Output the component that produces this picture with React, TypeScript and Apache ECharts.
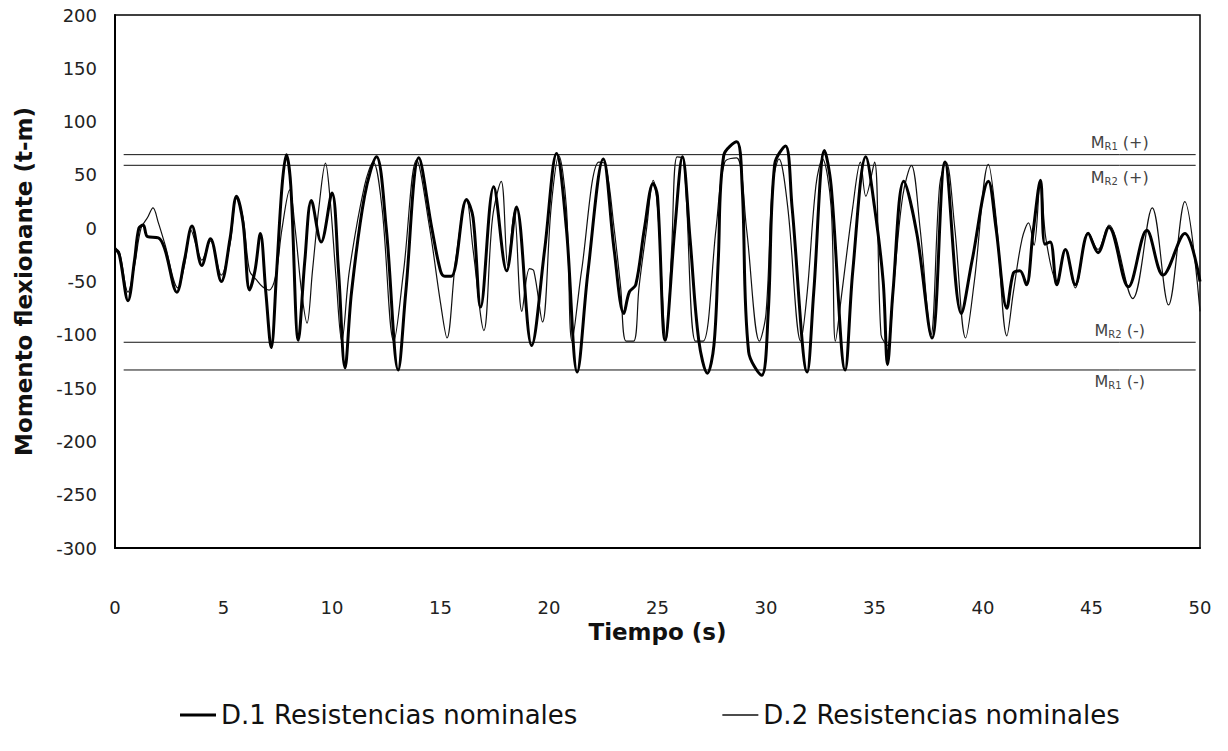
import React, { useEffect, useRef } from "react";
import * as echarts from "echarts";

// D.1 (thick) — time (s) and bending moment (t-m)
const d1Time = [0, 0.2, 0.6, 0.9, 1.1, 1.3, 1.5, 2.0, 2.3, 2.85, 3.2, 3.55, 4.0, 4.4, 4.9, 5.3, 5.6, 5.9, 6.2, 6.45, 6.7, 6.95, 7.2, 7.45, 7.7, 7.9, 8.1, 8.45, 8.75, 9.05, 9.5, 10.0, 10.3, 10.6, 10.9, 11.5, 12.05, 12.5, 13.05, 13.4, 14.0, 14.6, 15.0, 15.2, 15.5, 16.2, 16.5, 16.85, 17.45, 18.05, 18.5, 19.2, 19.8, 20.35, 20.8, 21.3, 21.8, 22.5, 23.0, 23.45, 23.7, 24.0, 24.4, 24.8, 25.0, 25.35, 25.8, 26.15, 26.5, 26.9, 27.3, 27.6, 27.8, 28.05, 28.65, 28.9, 29.2, 29.8, 30.1, 30.4, 30.9, 31.2, 31.9, 32.2, 32.7, 33.0, 33.65, 34.0, 34.6, 35.0, 35.4, 35.6, 35.85, 36.35, 36.95, 37.65, 38.25, 39.0, 39.5, 40.25, 40.6, 41.1, 41.4, 41.7, 42.0, 42.3, 42.65, 42.85, 43.1, 43.4, 43.8, 44.25, 44.85, 45.3, 45.8, 46.7, 47.55, 48.3, 49.3, 50];
const d1Moment = [-19, -25, -68, -30, 0, 3, -8, -9, -20, -60, -30, 2, -35, -10, -50, -10, 30, 5, -58, -40, -5, -60, -112, -40, 40, 69, 40, -105, -30, 26, -13, 33, -40, -131, -60, 30, 67, 0, -133, -60, 66, 0, -40, -45, -45, 27, 10, -74, 39, -40, 20, -110, -20, 70, 0, -135, -40, 65, -20, -80, -60, -53, 0, 42, 30, -105, 0, 67, -10, -105, -136, -110, -30, 68, 81, 40, -116, -138, -80, 60, 77, 20, -135, -60, 73, 40, -133, -40, 67, 20, -50, -128, -60, 44, -5, -103, 62, -80, -30, 44, 0, -75, -42, -40, -53, -5, 45, -15, -13, -53, -20, -53, -5, -23, 1, -55, -2, -44, -5, -50];

// D.2 (thin)
const d2Time = [0, 0.2, 0.6, 0.9, 1.2, 1.5, 1.75, 2.0, 2.3, 2.9, 3.2, 3.5, 3.8, 4.0, 4.4, 4.9, 5.3, 5.6, 5.9, 6.2, 6.5, 6.8, 7.1, 7.4, 7.7, 8.05, 8.3, 8.6, 8.85, 9.1, 9.4, 9.7, 9.9, 10.2, 10.45, 10.8, 11.5, 11.9, 12.3, 12.85, 13.3, 13.9, 14.5, 15.0, 15.3, 15.7, 16.2, 16.5, 17.0, 17.4, 17.8, 18.1, 18.4, 18.75, 19.1, 19.3, 19.7, 20.1, 20.45, 20.8, 21.06, 21.5, 22.3, 22.6, 23.0, 23.3, 23.55, 23.9, 24.15, 24.5, 24.8, 25.0, 25.4, 25.65, 25.9, 26.2, 26.75, 27.1, 27.7, 28.1, 28.65, 29.1, 29.7, 30.0, 30.3, 30.6, 31.0, 31.6, 31.9, 32.3, 32.6, 33.0, 33.2, 33.5, 34.0, 34.35, 34.6, 35.0, 35.3, 35.6, 35.9, 36.3, 36.7, 37.1, 37.6, 38.0, 38.3, 38.7, 39.2, 39.6, 40.25, 40.6, 41.1, 41.4, 41.8, 42.1, 42.35, 42.65, 42.9, 43.4, 43.8, 44.25, 44.85, 45.3, 45.8, 46.9, 47.8, 48.55, 49.3, 50];
const d2Moment = [-19, -22, -60, -35, 0, 10, 19, 5, -15, -56, -35, -2, -20, -30, -12, -44, -15, 28, 10, -40, -48, -55, -58, -45, 0, 36, 0, -60, -89, -40, 20, 61, 30, -50, -106, -40, 40, 62, 20, -106, -40, 64, 0, -70, -103, -30, 27, -20, -96, 10, 44, -35, 15, -78, -38, -40, -88, 20, 68, 20, -106, -40, 62, 60, 0, -55, -106, -106, -55, 0, 45, 20, -105, -20, 67, 65, -106, -106, 0, 62, 66, 0, -106, -80, 40, 65, 20, -106, -60, 40, 65, 20, -106, -60, 20, 62, 30, 62, -100, -110, -50, 30, 59, 0, -100, 40, 62, 0, -103, -50, 60, 10, -101, -60, -10, 5, -16, 45, -10, -50, -20, -56, -4, -20, 3, -66, 19, -72, 25, -78];

// Resistance reference levels (t-m)
const refNames = ["R1", "R2", "R2", "R1"];
const refSigns = ["(+)", "(+)", "(-)", "(-)"];
const refValues = [69, 59, -107, -133];
const refLabelPos = ["top", "bottom", "top", "bottom"];
const refStart = 0.4;
const refEnd = 49.8;
const refLabelAt = 46.3;

const xTicks = { min: 0, max: 50, interval: 5 };
const yTicks = { min: -300, max: 200, interval: 50 };

const seriesNames = ["D.1 Resistencias nominales", "D.2 Resistencias nominales"];

export default function App() {
  const ref = useRef<HTMLDivElement>(null);
  useEffect(() => {
    if (!ref.current) return;
    const chart = echarts.init(ref.current, undefined, { renderer: "svg" });
    const d1 = d1Time.map((t, i) => [t, d1Moment[i]]);
    const d2 = d2Time.map((t, i) => [t, d2Moment[i]]);
    const refSeries = refValues.map((v, i) => ({
      type: "line",
      name: "ref" + i,
      silent: true,
      showSymbol: true,
      symbol: "circle",
      symbolSize: 0,
      lineStyle: { color: "#111", width: 1 },
      data: [
        [refStart, v],
        {
          value: [refLabelAt, v],
          label: {
            show: true,
            position: refLabelPos[i],
            distance: 3,
            formatter: `{m|M}{s|${refNames[i]}}{m| ${refSigns[i]}}`,
            rich: {
              m: { fontSize: 16, color: "#444", fontFamily: "DejaVu Sans" },
              s: { fontSize: 10, color: "#444", fontFamily: "DejaVu Sans", padding: [8, 0, 0, 0] },
            },
          },
        },
        [refEnd, v],
      ],
      z: 1,
    }));
    chart.setOption({
      animation: false,
      backgroundColor: "#fff",
      grid: {
        left: 115,
        right: 28,
        top: 15,
        bottom: 203,
        show: true,
        borderColor: "#000",
        borderWidth: 1.5,
      },
      legend: {
        data: [
          { name: seriesNames[0], icon: "path://M0,0 L36,0 L36,3 L0,3 Z" },
          { name: seriesNames[1], icon: "path://M0,0 L36,0 L36,1.3 L0,1.3 Z" },
        ],
        top: 697,
        left: 175,
        itemGap: 145,
        itemWidth: 36,
        itemHeight: 14,
        textStyle: { fontFamily: "DejaVu Sans", fontSize: 26, color: "#111" },
      },
      xAxis: {
        type: "value",
        min: xTicks.min,
        max: xTicks.max,
        interval: xTicks.interval,
        name: "Tiempo (s)",
        nameLocation: "middle",
        nameGap: 72,
        nameTextStyle: { fontFamily: "DejaVu Sans", fontWeight: "bold", fontSize: 23, color: "#111" },
        axisLine: { show: true, onZero: false, lineStyle: { color: "#000", width: 2 } },
        axisTick: { show: false },
        splitLine: { show: false },
        axisLabel: { margin: 50, fontFamily: "DejaVu Sans", fontSize: 18, color: "#222" },
      },
      yAxis: {
        type: "value",
        min: yTicks.min,
        max: yTicks.max,
        interval: yTicks.interval,
        name: "Momento flexionante (t-m)",
        nameLocation: "middle",
        nameGap: 80,
        nameTextStyle: { fontFamily: "DejaVu Sans", fontWeight: "bold", fontSize: 23, color: "#111" },
        axisLine: { show: true, onZero: false, lineStyle: { color: "#000", width: 2 } },
        axisTick: { show: false },
        splitLine: { show: false },
        axisLabel: { margin: 18, fontFamily: "DejaVu Sans", fontSize: 18, color: "#222" },
      },
      series: [
        ...refSeries,
        {
          type: "line",
          name: seriesNames[1],
          data: d2,
          symbol: "none",
          smooth: 0.35,
          lineStyle: { color: "#111", width: 1.2 },
          itemStyle: { color: "#111" },
          z: 2,
        },
        {
          type: "line",
          name: seriesNames[0],
          data: d1,
          symbol: "none",
          smooth: 0.35,
          lineStyle: { color: "#000", width: 3 },
          itemStyle: { color: "#000" },
          z: 3,
        },
      ],
    });
    return () => chart.dispose();
  }, []);
  return (
    <div
      ref={ref}
      style={{ position: "absolute", left: 0, top: 0, width: 1228, height: 751, background: "#fff" }}
    />
  );
}
